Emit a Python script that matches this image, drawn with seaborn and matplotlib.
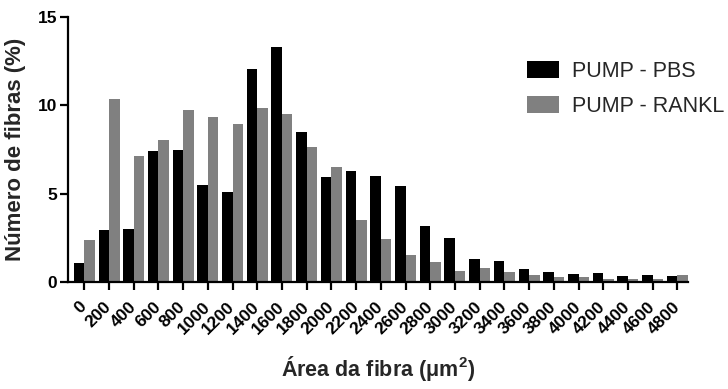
import matplotlib
matplotlib.use("Agg")
import matplotlib.pyplot as plt
import seaborn as sns
import pandas as pd

# Fibre area bins (µm²) and percentage of fibres per bin
area_bins = ["0", "200", "400", "600", "800", "1000", "1200", "1400", "1600",
             "1800", "2000", "2200", "2400", "2600", "2800", "3000", "3200",
             "3400", "3600", "3800", "4000", "4200", "4400", "4600", "4800"]
pump_pbs = [1.1, 2.93, 2.99, 7.40, 7.49, 5.52, 5.11, 12.06, 13.31,
            8.47, 5.92, 6.28, 6.03, 5.41, 3.18, 2.48, 1.29,
            1.19, 0.76, 0.55, 0.45, 0.49, 0.36, 0.40, 0.36]
pump_rankl = [2.37, 10.38, 7.13, 8.02, 9.72, 9.32, 8.93, 9.87, 9.49,
              7.64, 6.54, 3.52, 2.42, 1.55, 1.16, 0.65, 0.79,
              0.57, 0.40, 0.27, 0.27, 0.19, 0.19, 0.19, 0.40]
groups = ["PUMP - PBS", "PUMP - RANKL"]

df = pd.DataFrame({
    "area": area_bins * 2,
    "pct": pump_pbs + pump_rankl,
    "grupo": [groups[0]] * len(area_bins) + [groups[1]] * len(area_bins),
})

sns.set_theme(style="ticks")
plt.rcParams["font.family"] = ["Liberation Sans", "DejaVu Sans"]

fig = plt.figure(figsize=(7.28, 3.89), dpi=100)
ax = fig.add_axes([0.0934, 0.275, 0.852, 0.681])

sns.barplot(data=df, x="area", y="pct", hue="grupo", order=area_bins,
            hue_order=groups, palette={groups[0]: "#000000", groups[1]: "#808080"},
            width=0.85, gap=0, saturation=1, linewidth=0, ax=ax, legend=True)

ax.set_xlim(-0.66, 24.44)
ax.set_ylim(0, 15)
ax.set_yticks([0, 5, 10, 15])
ax.set_yticklabels(["0", "5", "10", "15"], fontsize=12.5, fontweight="bold")
ax.set_xticks(range(len(area_bins)))
ax.set_xticklabels(area_bins, fontsize=12.5, fontweight="bold", rotation=45,
                   ha="right", va="center", rotation_mode="anchor")

for side in ("top", "right"):
    ax.spines[side].set_visible(False)
for side in ("left", "bottom"):
    ax.spines[side].set_linewidth(1.6)
    ax.spines[side].set_color("black")
ax.tick_params(axis="both", which="major", direction="out", length=6, width=1.6,
               color="black", labelcolor="black")
ax.tick_params(axis="x", pad=10)
ax.tick_params(axis="y", pad=2)

ax.set_ylabel("Número de fibras (%)", fontsize=16, fontweight="bold", labelpad=8)
ax.set_xlabel("Área da fibra ($\\mathregular{\\mu m^2}$)", fontsize=15.5,
              fontweight="bold", labelpad=12)

ax.legend(loc="upper left", bbox_to_anchor=(527 / 728, 1 - 61 / 389),
          bbox_transform=fig.transFigure, frameon=False, fontsize=15.5,
          handlelength=1.5, handleheight=0.85, handletextpad=0.6,
          labelspacing=0.65, borderpad=0, borderaxespad=0, title=None)

fig.savefig("out.png", dpi=100)
